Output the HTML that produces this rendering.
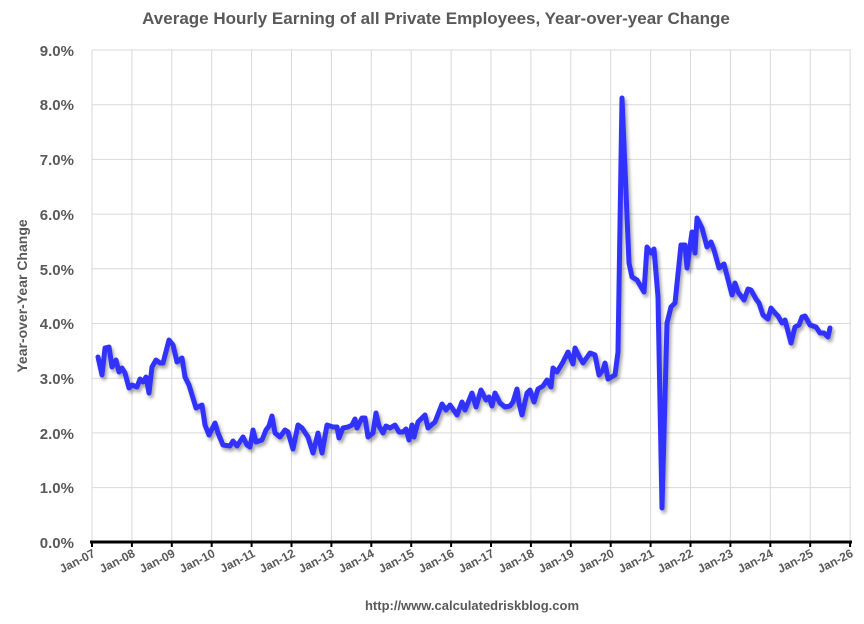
<!DOCTYPE html>
<html><head><meta charset="utf-8"><style>
html,body{margin:0;padding:0;background:#fff;}
svg text{font-family:"Liberation Sans",Arial,sans-serif;font-weight:bold;fill:#595959;}
</style></head><body>
<svg width="864" height="619" viewBox="0 0 864 619" xmlns="http://www.w3.org/2000/svg">
<defs><filter id="sh" x="-5%" y="-5%" width="110%" height="110%"><feDropShadow dx="2" dy="3" stdDeviation="1.5" flood-color="#000" flood-opacity="0.35"/></filter></defs>
<text x="436" y="24" font-size="17" text-anchor="middle">Average Hourly Earning of all Private Employees, Year-over-year Change</text>
<g stroke="#d9d9d9" stroke-width="1">
<line x1="92" y1="50" x2="851" y2="50"/><line x1="92" y1="104.7" x2="851" y2="104.7"/><line x1="92" y1="159.4" x2="851" y2="159.4"/><line x1="92" y1="214.1" x2="851" y2="214.1"/><line x1="92" y1="268.8" x2="851" y2="268.8"/><line x1="92" y1="323.5" x2="851" y2="323.5"/><line x1="92" y1="378.2" x2="851" y2="378.2"/><line x1="92" y1="432.9" x2="851" y2="432.9"/><line x1="92" y1="487.6" x2="851" y2="487.6"/>
<line x1="92" y1="50" x2="92" y2="542"/><line x1="131.9" y1="50" x2="131.9" y2="542"/><line x1="171.8" y1="50" x2="171.8" y2="542"/><line x1="211.7" y1="50" x2="211.7" y2="542"/><line x1="251.6" y1="50" x2="251.6" y2="542"/><line x1="291.5" y1="50" x2="291.5" y2="542"/><line x1="331.4" y1="50" x2="331.4" y2="542"/><line x1="371.3" y1="50" x2="371.3" y2="542"/><line x1="411.2" y1="50" x2="411.2" y2="542"/><line x1="451.1" y1="50" x2="451.1" y2="542"/><line x1="491" y1="50" x2="491" y2="542"/><line x1="530.9" y1="50" x2="530.9" y2="542"/><line x1="570.8" y1="50" x2="570.8" y2="542"/><line x1="610.7" y1="50" x2="610.7" y2="542"/><line x1="650.6" y1="50" x2="650.6" y2="542"/><line x1="690.5" y1="50" x2="690.5" y2="542"/><line x1="730.4" y1="50" x2="730.4" y2="542"/><line x1="770.3" y1="50" x2="770.3" y2="542"/><line x1="810.2" y1="50" x2="810.2" y2="542"/><line x1="850.1" y1="50" x2="850.1" y2="542"/>
</g>
<g font-size="15" text-anchor="end">
<text x="74" y="56">9.0%</text><text x="74" y="110">8.0%</text><text x="74" y="165">7.0%</text><text x="74" y="220">6.0%</text><text x="74" y="275">5.0%</text><text x="74" y="329">4.0%</text><text x="74" y="384">3.0%</text><text x="74" y="439">2.0%</text><text x="74" y="493">1.0%</text><text x="74" y="548">0.0%</text>
</g>
<text transform="translate(27,296) rotate(-90)" font-size="14" text-anchor="middle">Year-over-Year Change</text>
<polyline fill="none" stroke="#3333ff" stroke-width="5" stroke-linejoin="round" stroke-linecap="round" filter="url(#sh)" points="98,357 102,375 105,348 109,347 112,367 116,360 119,372 122,368 125,373 129,388 132,385 137,387 140,379 143,382 146,377 149,393 152,367 156,360 160,363 163,363 169,340 173,345 177,362 182,358 185,377 189,385 196,408 202,405 205,425 209,435 215,423 218,433 223,445 230,446 233,441 237,446 243,437 247,445 250,447 253,430 256,442 262,440 266,430 269,426 272,416 275,433 280,437 285,430 288,432 293,449 298,425 302,428 308,437 313,453 318,433 322,453 327,425 333,427 337,427 339,438 343,428 348,427 352,425 355,419 357,428 362,418 365,418 368,437 373,433 376,413 379,426 383,433 386,426 390,428 395,425 399,432 403,432 406,429 409,440 412,425 414,437 418,422 425,415 428,428 435,422 442,404 446,410 450,405 457,415 462,402 465,410 472,393 476,407 481,390 486,400 489,397 492,406 495,393 500,403 505,407 510,406 513,402 517,389 519,403 522,415 527,393 530,390 534,402 538,389 543,386 547,380 551,387 553,368 557,372 563,362 568,352 573,364 575,348 580,358 583,363 590,353 595,355 599,375 603,370 605,363 608,379 615,375 618,352 622,98 629,263 632,277 637,280 644,292 647,247 651,253 654,249 658,297 662,508 667,323 671,307 675,303 681,245 685,245 687,268 692,232 695,253 697,218 702,228 707,247 711,242 714,250 719,268 724,264 732,295 735,283 738,292 744,300 748,289 751,290 756,299 759,303 763,315 768,319 771,308 775,313 778,316 782,323 785,320 791,343 795,327 799,325 802,317 805,316 810,325 816,327 820,333 824,333 828,337 830,328"/>
<line x1="90" y1="542" x2="852" y2="542" stroke="#000" stroke-width="3"/>
<g stroke="#000" stroke-width="2">
<line x1="92" y1="542" x2="92" y2="547"/><line x1="131.9" y1="542" x2="131.9" y2="547"/><line x1="171.8" y1="542" x2="171.8" y2="547"/><line x1="211.7" y1="542" x2="211.7" y2="547"/><line x1="251.6" y1="542" x2="251.6" y2="547"/><line x1="291.5" y1="542" x2="291.5" y2="547"/><line x1="331.4" y1="542" x2="331.4" y2="547"/><line x1="371.3" y1="542" x2="371.3" y2="547"/><line x1="411.2" y1="542" x2="411.2" y2="547"/><line x1="451.1" y1="542" x2="451.1" y2="547"/><line x1="491" y1="542" x2="491" y2="547"/><line x1="530.9" y1="542" x2="530.9" y2="547"/><line x1="570.8" y1="542" x2="570.8" y2="547"/><line x1="610.7" y1="542" x2="610.7" y2="547"/><line x1="650.6" y1="542" x2="650.6" y2="547"/><line x1="690.5" y1="542" x2="690.5" y2="547"/><line x1="730.4" y1="542" x2="730.4" y2="547"/><line x1="770.3" y1="542" x2="770.3" y2="547"/><line x1="810.2" y1="542" x2="810.2" y2="547"/><line x1="850.1" y1="542" x2="850.1" y2="547"/>
</g>
<g font-size="12" text-anchor="end">
<text transform="translate(96,556) rotate(-27)">Jan-07</text><text transform="translate(136,556) rotate(-27)">Jan-08</text><text transform="translate(176,556) rotate(-27)">Jan-09</text><text transform="translate(216,556) rotate(-27)">Jan-10</text><text transform="translate(256,556) rotate(-27)">Jan-11</text><text transform="translate(296,556) rotate(-27)">Jan-12</text><text transform="translate(335,556) rotate(-27)">Jan-13</text><text transform="translate(375,556) rotate(-27)">Jan-14</text><text transform="translate(415,556) rotate(-27)">Jan-15</text><text transform="translate(455,556) rotate(-27)">Jan-16</text><text transform="translate(495,556) rotate(-27)">Jan-17</text><text transform="translate(535,556) rotate(-27)">Jan-18</text><text transform="translate(575,556) rotate(-27)">Jan-19</text><text transform="translate(615,556) rotate(-27)">Jan-20</text><text transform="translate(655,556) rotate(-27)">Jan-21</text><text transform="translate(694,556) rotate(-27)">Jan-22</text><text transform="translate(734,556) rotate(-27)">Jan-23</text><text transform="translate(774,556) rotate(-27)">Jan-24</text><text transform="translate(814,556) rotate(-27)">Jan-25</text><text transform="translate(854,556) rotate(-27)">Jan-26</text>
</g>
<text x="472" y="610" font-size="13" text-anchor="middle">http://www.calculatedriskblog.com</text>
</svg>
</body></html>
